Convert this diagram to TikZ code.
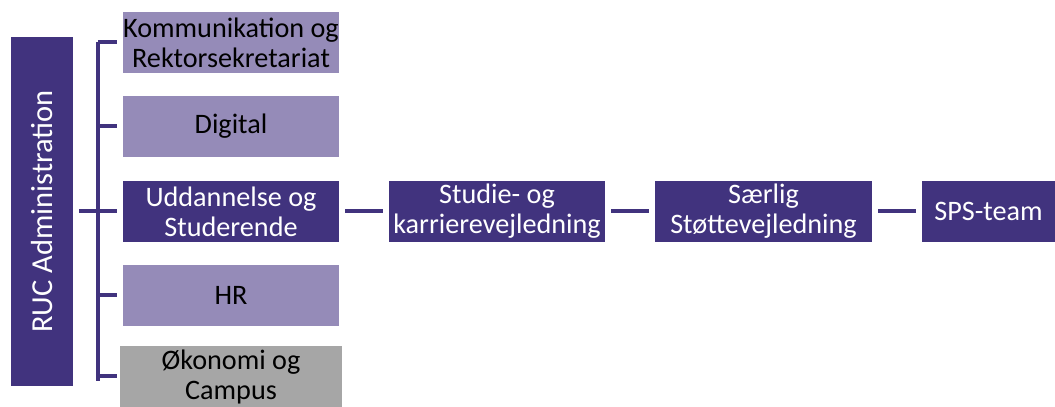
\documentclass[tikz,border=0pt]{standalone}
\usepackage{fontspec}
\setmainfont{Carlito}
\definecolor{rucdark}{HTML}{41337E}
\definecolor{ruclight}{HTML}{958BB8}
\definecolor{rucgray}{HTML}{A6A6A6}
\tikzset{
  box/.style={minimum width=216pt, minimum height=61pt, inner sep=0pt, align=center,
    font=\fontsize{28.2}{30}\selectfont},
  darkbox/.style={box, fill=rucdark, text=white},
  lightbox/.style={box, fill=ruclight, text=black},
  graybox/.style={box, fill=rucgray, text=black, minimum width=222pt},
  conn/.style={draw=rucdark, line width=4pt}
}

\begin{document}
\begin{tikzpicture}[x=1pt,y=1pt]
        \useasboundingbox (0,0) rectangle (1055,407);
        \node[darkbox, minimum width=349pt, minimum height=62pt, rotate=90,
          font=\fontsize{30.5}{33}\selectfont] (ruc) at (42,195.5) {RUC Administration};
        \node[lightbox] (kom) at (231,364.5) {Kommunikation og\\Rektorsekretariat};
        \node[lightbox] (dig) at (231,280.5) {Digital};
        \node[darkbox] (udd) at (231,195.5) {Uddannelse og\\Studerende};
        \node[lightbox] (hr) at (231,111.5) {HR};
        \node[graybox] (oek) at (231,30.5) {Økonomi og\\Campus};
        \node[darkbox] (stu) at (497,195.5) {Studie- og\\karrierevejledning};
        \node[darkbox, minimum width=217pt] (sar) at (763.5,195.5) {Særlig\\Støttevejledning};
        \node[darkbox, minimum width=133pt] (sps) at (988.5,195.5) {SPS-team};
        \coordinate (spine) at (98,195.5);
        \draw[conn] (98,365) -- (98,26);
        \draw[conn, shorten <=6pt] (ruc.south) -- (spine);
        \foreach \b in {kom,dig,udd,hr} \draw[conn, shorten <=6pt] (\b.west) -- (\b.west -| spine);
        \draw[conn, shorten <=3pt] (oek.west) -- (oek.west -| spine);
        \draw[conn, shorten <=6pt, shorten >=6pt] (udd) -- (stu);
        \draw[conn, shorten <=6pt, shorten >=6pt] (stu) -- (sar);
        \draw[conn, shorten <=6pt, shorten >=6pt] (sar) -- (sps);
        \end{tikzpicture}
\end{document}
